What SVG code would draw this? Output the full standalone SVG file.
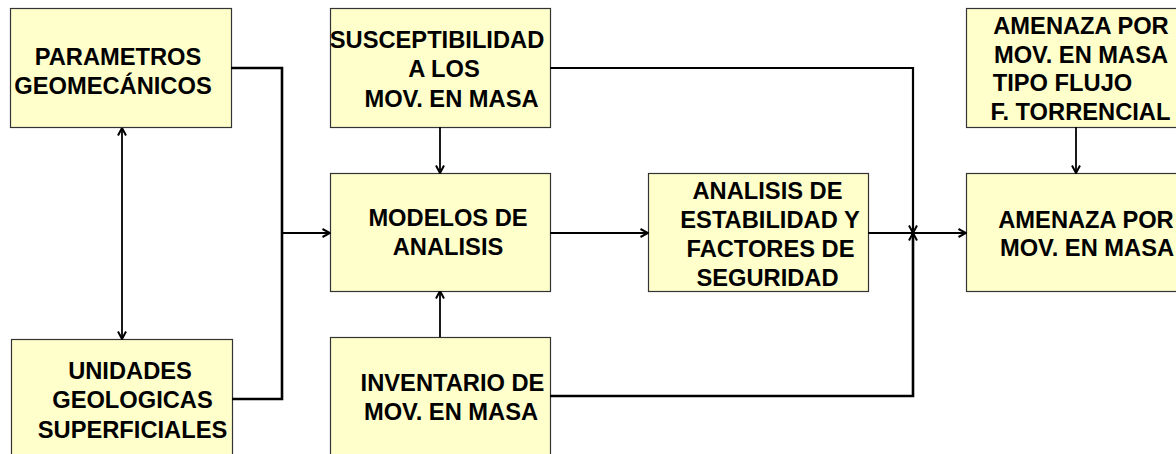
<svg xmlns="http://www.w3.org/2000/svg" width="1176" height="454" viewBox="0 0 1176 454">
<style>
.box{fill:#FFFFCC;stroke:#333333;stroke-width:1.2}
.t{font-family:"Liberation Sans",Arial,sans-serif;font-weight:bold;font-size:23.7px;fill:#000;text-anchor:middle}
.c{fill:none;stroke:#000;stroke-width:2.2}
</style>
<defs>
<marker id="arr" viewBox="0 0 10 10" refX="9.5" refY="5" markerWidth="10" markerHeight="10" markerUnits="userSpaceOnUse" orient="auto-start-reverse">
<path d="M2,1 L9.5,5 L2,9" fill="none" stroke="#000" stroke-width="2"/>
</marker>
</defs>
<rect width="1176" height="454" fill="#FFFFFF"/>
<g id="parametros">
<rect class="box" x="10.5" y="8.5" width="221" height="119"/>
<text class="t" x="118" y="64.5">PARAMETROS</text>
<text class="t" x="113" y="93.5">GEOMECÁNICOS</text>
</g>
<g id="unidades">
<rect class="box" x="11.5" y="339.5" width="221" height="130"/>
<text class="t" x="130" y="378.5">UNIDADES</text>
<text class="t" x="132.5" y="407.5">GEOLOGICAS</text>
<text class="t" x="132.5" y="437.5">SUPERFICIALES</text>
</g>
<g id="susceptibilidad">
<rect class="box" x="330.5" y="8.5" width="220" height="119"/>
<text class="t" x="437" y="48">SUSCEPTIBILIDAD</text>
<text class="t" x="444" y="77">A LOS</text>
<text class="t" x="451.5" y="107">MOV. EN MASA</text>
</g>
<g id="modelos">
<rect class="box" x="330.5" y="173.5" width="220" height="118"/>
<text class="t" x="448" y="226">MODELOS DE</text>
<text class="t" x="448" y="255">ANALISIS</text>
</g>
<g id="analisis">
<rect class="box" x="648.5" y="173.5" width="220" height="118"/>
<text class="t" x="767.5" y="198.5">ANALISIS DE</text>
<text class="t" x="770" y="227.5">ESTABILIDAD Y</text>
<text class="t" x="770.5" y="256.5">FACTORES DE</text>
<text class="t" x="767.5" y="286">SEGURIDAD</text>
</g>
<g id="inventario">
<rect class="box" x="330.5" y="337.5" width="220" height="130"/>
<text class="t" x="452.5" y="391">INVENTARIO DE</text>
<text class="t" x="451" y="420">MOV. EN MASA</text>
</g>
<g id="amenaza-flujo">
<rect class="box" x="966.5" y="8.5" width="230" height="119"/>
<text class="t" x="1081" y="33.5">AMENAZA POR</text>
<text class="t" x="1081" y="62.5">MOV. EN MASA</text>
<text class="t" x="1062.5" y="91">TIPO FLUJO</text>
<text class="t" x="1080.5" y="119.5">F. TORRENCIAL</text>
</g>
<g id="amenaza">
<rect class="box" x="966.5" y="173.5" width="230" height="118"/>
<text class="t" x="1086" y="228">AMENAZA POR</text>
<text class="t" x="1087" y="256">MOV. EN MASA</text>
</g>
<g id="connectors">
<polyline class="c" points="231,68 282,68 282,399 232,399" style="stroke-width:2.6"/>
<line class="c" x1="282" y1="233" x2="330" y2="233" marker-end="url(#arr)"/>
<line class="c" x1="122" y1="128" x2="122" y2="339" marker-start="url(#arr)" marker-end="url(#arr)" style="stroke-width:1.8"/>
<line class="c" x1="440" y1="127" x2="440" y2="173" marker-end="url(#arr)" style="stroke-width:1.8"/>
<polyline class="c" points="550,68 913,68 913,233" marker-end="url(#arr)"/>
<polyline class="c" points="550,396 913,396 913,233" marker-end="url(#arr)" style="stroke-width:2.6"/>
<line class="c" x1="550" y1="233" x2="648" y2="233" marker-end="url(#arr)"/>
<line class="c" x1="868" y1="233" x2="966" y2="233" marker-end="url(#arr)"/>
<line class="c" x1="440" y1="337" x2="440" y2="291" marker-end="url(#arr)" style="stroke-width:1.8"/>
<line class="c" x1="1076" y1="127" x2="1076" y2="173" marker-end="url(#arr)" style="stroke-width:1.8"/>
</g>
</svg>
